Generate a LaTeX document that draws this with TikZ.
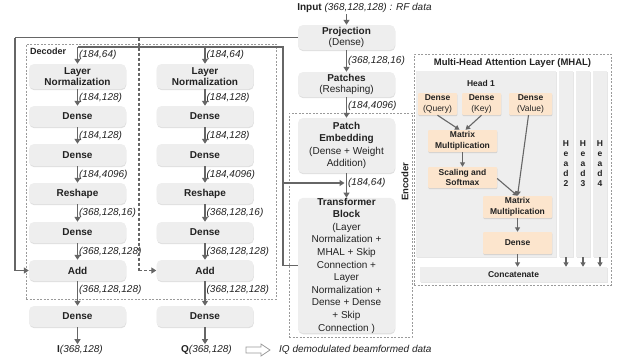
\documentclass[tikz,border=0pt]{standalone}
\usepackage{fontspec}
\setmainfont{Liberation Sans}
\usetikzlibrary{arrows.meta,shadows}
\definecolor{boxgray}{HTML}{EEEEEE}
\definecolor{arrgray}{HTML}{666666}
\definecolor{dashgray}{HTML}{9A9A9A}
\definecolor{peach}{HTML}{FCE5CD}
\definecolor{txt}{HTML}{222222}
\begin{document}
\begin{tikzpicture}[x=1pt,y=-1pt,
  box/.style={rounded corners=5pt, fill=boxgray, minimum width=97pt, align=center, inner sep=0pt, text=txt,
    font=\fontsize{10}{11.5}\selectfont, drop shadow={shadow xshift=0.3pt, shadow yshift=-1.2pt, opacity=0.25}},
  obox/.style={rounded corners=1pt, fill=peach, align=center, inner sep=0pt, text=txt,
    font=\fontsize{8.5}{10.5}\selectfont, drop shadow={shadow xshift=0.3pt, shadow yshift=-1pt, opacity=0.25}},
  panel/.style={fill=boxgray, inner sep=0pt, text=txt, align=center,
    drop shadow={shadow xshift=0.5pt, shadow yshift=-1pt, opacity=0.2}},
  dimlab/.style={font=\fontsize{10}{12}\selectfont\itshape, text=txt, anchor=west, inner sep=1pt},
  dbox/.style={draw=dashgray, dash pattern=on 2pt off 1.5pt, line width=0.6pt, inner sep=0pt},
  arr/.style={draw=arrgray, line width=1.3pt, -{Triangle[width=6pt,length=5pt]}},
  sarr/.style={draw=arrgray, line width=1.1pt, -{Triangle[width=5pt,length=4.5pt]}},
  conn/.style={draw=arrgray, line width=1.2pt},
  dconn/.style={draw=arrgray, line width=1.2pt, dash pattern=on 3pt off 2pt}
]
\useasboundingbox (0,0) rectangle (618,362);

% dashed frames
\node[dbox, minimum width=250pt, minimum height=255pt] (dec) at (151,171.5) {};
\node[dbox, minimum width=123pt, minimum height=224pt] (enc) at (350.5,225) {};
\node[dbox, minimum width=197pt, minimum height=231pt] (mhal) at (512.5,169.5) {};

\node[font=\bfseries\fontsize{9}{11}\selectfont, text=txt, anchor=west, inner sep=0pt] (declab) at (30,51.5) {Decoder};
\node[rotate=90, font=\bfseries\fontsize{9.5}{11}\selectfont, text=txt, inner sep=0pt] (enclab) at (405,181.5) {Encoder};
\node[font=\bfseries\fontsize{9.5}{11}\selectfont, text=txt, inner sep=0pt] (mhallab) at (512.5,63) {Multi-Head Attention Layer (MHAL)};

% input / encoder column
\node[font=\fontsize{10}{12}\selectfont, text=txt, inner sep=1pt] (inp) at (364.5,8) {\textbf{Input} \textit{(368,128,128) : RF data}};
\node[box, minimum height=25pt] (proj) at (346.5,37.5) {\textbf{Projection}\\(Dense)};
\node[box, minimum height=25pt] (patch) at (346.5,84.5) {\textbf{Patches}\\(Reshaping)};
\node[box, minimum height=55pt, font=\fontsize{10}{12.4}\selectfont] (pe) at (346.5,145.5) {\textbf{Patch}\\\textbf{Embedding}\\(Dense + Weight\\Addition)};
\node[box, minimum height=135pt, font=\fontsize{10}{12.6}\selectfont] (tb) at (346.5,265.5) {\textbf{Transformer}\\\textbf{Block}\\(Layer\\Normalization +\\MHAL + Skip\\Connection +\\Layer\\Normalization +\\Dense + Dense\\+ Skip\\Connection )};

\draw[arr] (proj.north |- inp.south) -- (proj.north);
\draw[arr] (proj.south) -- node[dimlab, pos=0.5] (l1) {(368,128,16)} (patch.north);
\draw[arr] (patch.south) -- node[dimlab, pos=0.4] (l2) {(184,4096)} (pe.north);
\draw[arr] (pe.south) -- node[dimlab, pos=0.4] (l3) {(184,64)} (tb.north);

% decoder columns
\foreach \c/\x in {1/77.5, 2/205} {
  \node[box, minimum height=25pt] (ln\c) at (\x,76.5) {\textbf{Layer}\\\textbf{Normalization}};
  \node[box, minimum height=21pt] (da\c) at (\x,116.5) {\textbf{Dense}};
  \node[box, minimum height=22pt] (db\c) at (\x,155) {\textbf{Dense}};
  \node[box, minimum height=21pt] (rs\c) at (\x,193.5) {\textbf{Reshape}};
  \node[box, minimum height=21pt] (dc\c) at (\x,232.5) {\textbf{Dense}};
  \node[box, minimum height=21pt] (add\c) at (\x,270.5) {\textbf{Add}};
  \node[box, minimum height=21pt] (out\c) at (\x,316.5) {\textbf{Dense}};
  \draw[arr] (ln\c.south) -- node[dimlab] {(184,128)} (da\c.north);
  \draw[arr] (da\c.south) -- node[dimlab] {(184,128)} (db\c.north);
  \draw[arr] (db\c.south) -- node[dimlab] {(184,4096)} (rs\c.north);
  \draw[arr] (rs\c.south) -- node[dimlab] {(368,128,16)} (dc\c.north);
  \draw[arr] (dc\c.south) -- node[dimlab] {(368,128,128)} (add\c.north);
  \draw[arr] (add\c.south) -- node[dimlab, pos=0.35] {(368,128,128)} (out\c.north);
}
\node[font=\fontsize{10}{12}\selectfont, text=txt, inner sep=1pt] (oi) at (80,350) {\textbf{I}\textit{(368,128)}};
\node[font=\fontsize{10}{12}\selectfont, text=txt, inner sep=1pt] (oq) at (206.5,350) {\textbf{Q}\textit{(368,128)}};
\draw[arr] (out1.south) -- (out1.south |- oi.north);
\draw[arr] (out2.south) -- (out2.south |- oq.north);
\draw[draw=dashgray, line width=0.8pt, fill=white] (246,347) -- (261,347) -- (261,344) -- (270,350) -- (261,356) -- (261,353) -- (246,353) -- cycle;
\node[font=\fontsize{10}{12}\selectfont\itshape, text=txt, anchor=west, inner sep=0pt] (iq) at (279,350) {IQ demodulated beamformed data};

% skip connections from projection
\coordinate (pl) at (15,37.5);
\coordinate (tap) at (139,37.5);
\draw[conn] (proj.west) -- (pl);
\draw[arr] (pl) |- (add1.west);
\draw[dconn] (tap) -- (tap |- add2.west);
\draw[arr, dash pattern=on 3pt off 2pt] (tap |- add2.west) -- (add2.west);

% transformer output loop
\coordinate (ctop) at (283,47);
\coordinate (cmid) at (283,183);
\draw[conn] (tb.west) -| (ctop) -- (ln1.north |- ctop);
\draw[arr] (ln1.north |- ctop) -- node[dimlab] {(184,64)} (ln1.north);
\draw[arr] (ln2.north |- ctop) -- node[dimlab] {(184,64)} (ln2.north);
\draw[arr, shorten >=2pt] (cmid) -- (pe.south |- cmid);

% MHAL
\node[panel, minimum width=140pt, minimum height=186pt] (h1) at (486,164) {};
\node[panel, minimum width=14pt, minimum height=186pt, font=\bfseries\fontsize{8.5}{10}\selectfont] (h2) at (566,164) {H\\e\\a\\d\\2};
\node[panel, minimum width=14pt, minimum height=186pt, font=\bfseries\fontsize{8.5}{10}\selectfont] (h3) at (583,164) {H\\e\\a\\d\\3};
\node[panel, minimum width=14pt, minimum height=186pt, font=\bfseries\fontsize{8.5}{10}\selectfont] (h4) at (600,164) {H\\e\\a\\d\\4};
\node[font=\bfseries\fontsize{8.5}{10}\selectfont, text=txt, inner sep=0pt] (h1lab) at (481,83) {Head 1};

\node[obox, minimum width=39pt, minimum height=22pt] (q) at (437.5,104) {\textbf{Dense}\\(Query)};
\node[obox, minimum width=39pt, minimum height=22pt] (k) at (481.5,104) {\textbf{Dense}\\(Key)};
\node[obox, minimum width=43pt, minimum height=22pt] (v) at (530.5,104) {\textbf{Dense}\\(Value)};
\node[obox, minimum width=69pt, minimum height=22pt] (mm1) at (462.5,141) {\textbf{Matrix}\\\textbf{Multiplication}};
\node[obox, minimum width=69pt, minimum height=21pt] (sc) at (462.5,177.5) {\textbf{Scaling and}\\\textbf{Softmax}};
\node[obox, minimum width=69pt, minimum height=22pt] (mm2) at (517.5,207) {\textbf{Matrix}\\\textbf{Multiplication}};
\node[obox, minimum width=69pt, minimum height=22pt] (dn) at (517.5,243) {\textbf{Dense}};
\node[panel, minimum width=187pt, minimum height=15pt, font=\bfseries\fontsize{8.5}{10}\selectfont] (cat) at (513.5,274.5) {Concatenate};

\draw[sarr] (q.south) -- ([xshift=-3pt]mm1.north);
\draw[sarr] (k.south) -- ([xshift=3pt]mm1.north);
\draw[sarr] (mm1.south) -- (sc.north);
\draw[sarr] ([yshift=-1pt]sc.east) -- (mm2.north);
\draw[sarr] ([xshift=-2pt]v.south) -- (mm2.north);
\draw[sarr] (mm2.south) -- (dn.north);
\draw[sarr] (dn.south) -- (dn.south |- cat.north);
\draw[sarr] (h2.south) -- (h2.south |- cat.north);
\draw[sarr] (h3.south) -- (h3.south |- cat.north);
\draw[sarr] (h4.south) -- (h4.south |- cat.north);
\end{tikzpicture}
\end{document}
